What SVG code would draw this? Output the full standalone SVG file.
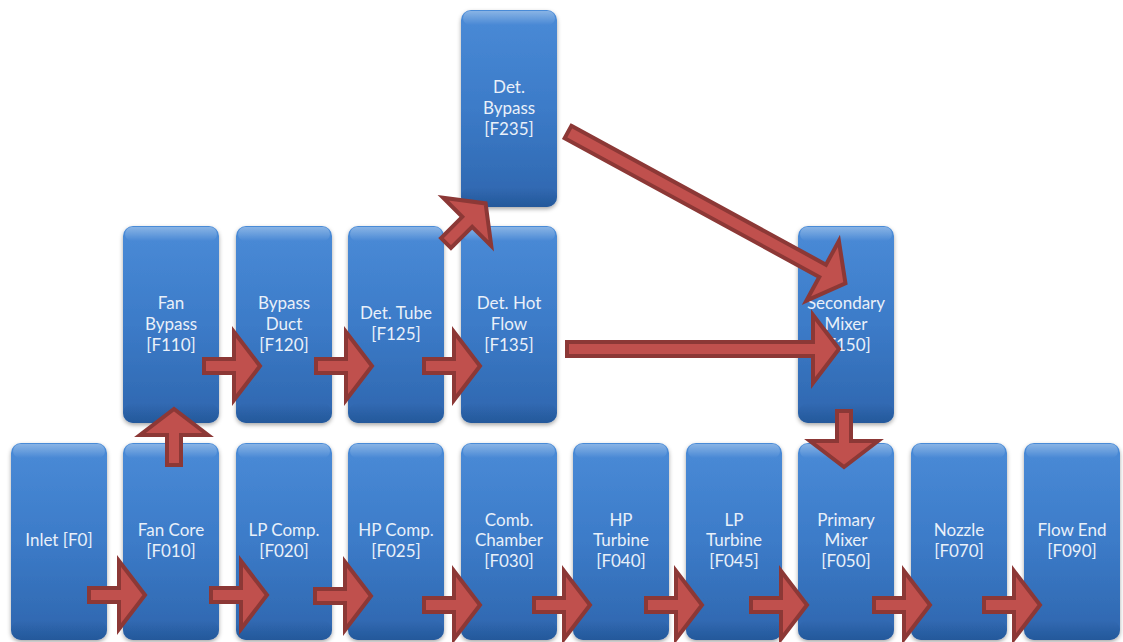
<svg xmlns="http://www.w3.org/2000/svg" width="1123" height="642" viewBox="0 0 1123 642">
<defs>
<linearGradient id="bg" x1="0" y1="0" x2="0" y2="1">
<stop offset="0" stop-color="#4a8bd7"/>
<stop offset="0.5" stop-color="#3c7bc8"/>
<stop offset="1" stop-color="#2e66ae"/>
</linearGradient>
<linearGradient id="hg" x1="0" y1="0" x2="0" y2="1">
<stop offset="0" stop-color="#ffffff" stop-opacity="0.35"/>
<stop offset="1" stop-color="#ffffff" stop-opacity="0"/>
</linearGradient>
<linearGradient id="bd" x1="0" y1="0" x2="0" y2="1">
<stop offset="0" stop-color="#1d4f8e" stop-opacity="0"/>
<stop offset="1" stop-color="#1d4f8e" stop-opacity="0.6"/>
</linearGradient>
<filter id="sh" x="-10%" y="-10%" width="120%" height="120%">
<feDropShadow dx="0" dy="2" stdDeviation="2" flood-color="#000" flood-opacity="0.35"/>
</filter>
<path id="arr" d="M0,-7 L30,-7 L30,-34 L56,0 L30,34 L30,7 L0,7 Z"/>
</defs>
<style>
.box{fill:url(#bg);filter:url(#sh)}
.hl{fill:url(#hg)}
.bd{fill:url(#bd)}
.t{font-family:Lato,"Open Sans","Liberation Sans",sans-serif;font-size:17px;fill:#e9f0f9;text-anchor:middle}
.a{fill:#c0504d;stroke:#8c3836;stroke-width:4;stroke-linejoin:miter;stroke-miterlimit:10}
</style>
<rect width="1123" height="642" fill="#ffffff"/>
<g id="nodes">
<g id="inlet"><rect class="box" x="11" y="443" width="96" height="197" rx="10"/><rect class="hl" x="13" y="444" width="92" height="14" rx="7"/><rect class="bd" x="11" y="620" width="96" height="20" rx="10"/><text class="t" x="59" y="546">Inlet [F0]</text></g>
<g id="fan-core"><rect class="box" x="123" y="443" width="96" height="197" rx="10"/><rect class="hl" x="125" y="444" width="92" height="14" rx="7"/><rect class="bd" x="123" y="620" width="96" height="20" rx="10"/><text class="t" x="171" y="536">Fan Core</text><text class="t" x="171" y="557">[F010]</text></g>
<g id="lp-comp"><rect class="box" x="236" y="443" width="96" height="197" rx="10"/><rect class="hl" x="238" y="444" width="92" height="14" rx="7"/><rect class="bd" x="236" y="620" width="96" height="20" rx="10"/><text class="t" x="284" y="536">LP Comp.</text><text class="t" x="284" y="557">[F020]</text></g>
<g id="hp-comp"><rect class="box" x="348" y="443" width="96" height="197" rx="10"/><rect class="hl" x="350" y="444" width="92" height="14" rx="7"/><rect class="bd" x="348" y="620" width="96" height="20" rx="10"/><text class="t" x="396" y="536">HP Comp.</text><text class="t" x="396" y="557">[F025]</text></g>
<g id="comb-chamber"><rect class="box" x="461" y="443" width="96" height="197" rx="10"/><rect class="hl" x="463" y="444" width="92" height="14" rx="7"/><rect class="bd" x="461" y="620" width="96" height="20" rx="10"/><text class="t" x="509" y="526">Comb.</text><text class="t" x="509" y="546">Chamber</text><text class="t" x="509" y="567">[F030]</text></g>
<g id="hp-turbine"><rect class="box" x="573" y="443" width="96" height="197" rx="10"/><rect class="hl" x="575" y="444" width="92" height="14" rx="7"/><rect class="bd" x="573" y="620" width="96" height="20" rx="10"/><text class="t" x="621" y="526">HP</text><text class="t" x="621" y="546">Turbine</text><text class="t" x="621" y="567">[F040]</text></g>
<g id="lp-turbine"><rect class="box" x="686" y="443" width="96" height="197" rx="10"/><rect class="hl" x="688" y="444" width="92" height="14" rx="7"/><rect class="bd" x="686" y="620" width="96" height="20" rx="10"/><text class="t" x="734" y="526">LP</text><text class="t" x="734" y="546">Turbine</text><text class="t" x="734" y="567">[F045]</text></g>
<g id="primary-mixer"><rect class="box" x="798" y="443" width="96" height="197" rx="10"/><rect class="hl" x="800" y="444" width="92" height="14" rx="7"/><rect class="bd" x="798" y="620" width="96" height="20" rx="10"/><text class="t" x="846" y="526">Primary</text><text class="t" x="846" y="546">Mixer</text><text class="t" x="846" y="567">[F050]</text></g>
<g id="nozzle"><rect class="box" x="911" y="443" width="96" height="197" rx="10"/><rect class="hl" x="913" y="444" width="92" height="14" rx="7"/><rect class="bd" x="911" y="620" width="96" height="20" rx="10"/><text class="t" x="959" y="536">Nozzle</text><text class="t" x="959" y="557">[F070]</text></g>
<g id="flow-end"><rect class="box" x="1024" y="443" width="96" height="197" rx="10"/><rect class="hl" x="1026" y="444" width="92" height="14" rx="7"/><rect class="bd" x="1024" y="620" width="96" height="20" rx="10"/><text class="t" x="1072" y="536">Flow End</text><text class="t" x="1072" y="557">[F090]</text></g>
<g id="fan-bypass"><rect class="box" x="123" y="226" width="96" height="197" rx="10"/><rect class="hl" x="125" y="227" width="92" height="14" rx="7"/><rect class="bd" x="123" y="403" width="96" height="20" rx="10"/><text class="t" x="171" y="309">Fan</text><text class="t" x="171" y="330">Bypass</text><text class="t" x="171" y="351">[F110]</text></g>
<g id="bypass-duct"><rect class="box" x="236" y="226" width="96" height="197" rx="10"/><rect class="hl" x="238" y="227" width="92" height="14" rx="7"/><rect class="bd" x="236" y="403" width="96" height="20" rx="10"/><text class="t" x="284" y="309">Bypass</text><text class="t" x="284" y="330">Duct</text><text class="t" x="284" y="351">[F120]</text></g>
<g id="det-tube"><rect class="box" x="348" y="226" width="96" height="197" rx="10"/><rect class="hl" x="350" y="227" width="92" height="14" rx="7"/><rect class="bd" x="348" y="403" width="96" height="20" rx="10"/><text class="t" x="396" y="319">Det. Tube</text><text class="t" x="396" y="340">[F125]</text></g>
<g id="det-hot-flow"><rect class="box" x="461" y="226" width="96" height="197" rx="10"/><rect class="hl" x="463" y="227" width="92" height="14" rx="7"/><rect class="bd" x="461" y="403" width="96" height="20" rx="10"/><text class="t" x="509" y="309">Det. Hot</text><text class="t" x="509" y="330">Flow</text><text class="t" x="509" y="351">[F135]</text></g>
<g id="secondary-mixer"><rect class="box" x="798" y="226" width="96" height="197" rx="10"/><rect class="hl" x="800" y="227" width="92" height="14" rx="7"/><rect class="bd" x="798" y="403" width="96" height="20" rx="10"/><text class="t" x="846" y="309">Secondary</text><text class="t" x="846" y="330">Mixer</text><text class="t" x="846" y="351">[F150]</text></g>
<g id="det-bypass"><rect class="box" x="461" y="10" width="96" height="197" rx="10"/><rect class="hl" x="463" y="11" width="92" height="14" rx="7"/><rect class="bd" x="461" y="187" width="96" height="20" rx="10"/><text class="t" x="509" y="93">Det.</text><text class="t" x="509" y="114">Bypass</text><text class="t" x="509" y="135">[F235]</text></g>
</g>
<g id="connectors">
<use href="#arr" class="a" transform="translate(89,595)"/>
<use href="#arr" class="a" transform="translate(211,595)"/>
<use href="#arr" class="a" transform="translate(315,596)"/>
<use href="#arr" class="a" transform="translate(424,605)"/>
<use href="#arr" class="a" transform="translate(534,605)"/>
<use href="#arr" class="a" transform="translate(646,605)"/>
<use href="#arr" class="a" transform="translate(751,605)"/>
<use href="#arr" class="a" transform="translate(874,605)"/>
<use href="#arr" class="a" transform="translate(984,605)"/>
<use href="#arr" class="a" transform="translate(204,366)"/>
<use href="#arr" class="a" transform="translate(316,366)"/>
<use href="#arr" class="a" transform="translate(424,366)"/>
<use href="#arr" class="a" transform="translate(174,465) rotate(-90)"/>
<use href="#arr" class="a" transform="translate(844,411) rotate(90)"/>
<use href="#arr" class="a" transform="translate(446,243) rotate(-45)"/>
<path class="a" transform="translate(567,349)" d="M0,-7 L246,-7 L246,-34 L272,0 L246,34 L246,7 L0,7 Z"/>
<path class="a" transform="translate(568,132) rotate(28.6)" d="M0,-7 L290,-7 L290,-34 L316,0 L290,34 L290,7 L0,7 Z"/>
</g>
</svg>
